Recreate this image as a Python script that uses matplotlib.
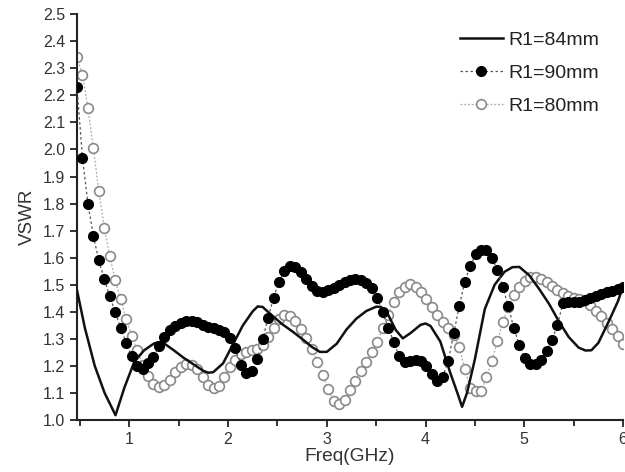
import numpy as np
import matplotlib
matplotlib.use('Agg')
import matplotlib.pyplot as plt
from matplotlib.ticker import MultipleLocator

plt.rcParams['font.family'] = ['Liberation Sans', 'DejaVu Sans']

# sweep used by the two marker series (101 samples)
freq = np.linspace(0.47, 6.0, 101)

vswr_90 = [2.23, 1.97, 1.80, 1.68, 1.59, 1.52, 1.457, 1.40, 1.34, 1.285,
           1.235, 1.20, 1.19, 1.21, 1.233, 1.272, 1.306, 1.332, 1.349, 1.360,
           1.366, 1.367, 1.362, 1.352, 1.345, 1.340, 1.334, 1.324, 1.305, 1.265,
           1.205, 1.174, 1.183, 1.225, 1.298, 1.378, 1.452, 1.512, 1.550, 1.568,
           1.566, 1.547, 1.52, 1.494, 1.478, 1.472, 1.479, 1.489, 1.50, 1.511,
           1.518, 1.523, 1.519, 1.507, 1.487, 1.45, 1.40, 1.34, 1.29, 1.235,
           1.214, 1.217, 1.223, 1.22, 1.20, 1.172, 1.145, 1.16, 1.22, 1.32,
           1.42, 1.51, 1.568, 1.612, 1.630, 1.628, 1.60, 1.555, 1.49, 1.42,
           1.34, 1.278, 1.23, 1.207, 1.207, 1.222, 1.256, 1.295, 1.352, 1.432,
           1.436, 1.435, 1.436, 1.442, 1.450, 1.458, 1.465, 1.472, 1.478, 1.485,
           1.492]

vswr_80 = [2.34, 2.275, 2.155, 2.005, 1.845, 1.71, 1.605, 1.518, 1.447, 1.372,
           1.312, 1.259, 1.205, 1.162, 1.134, 1.123, 1.128, 1.149, 1.177, 1.195,
           1.208, 1.205, 1.188, 1.16, 1.13, 1.119, 1.127, 1.158, 1.196, 1.223,
           1.243, 1.251, 1.258, 1.264, 1.277, 1.306, 1.342, 1.374, 1.388, 1.386,
           1.367, 1.337, 1.303, 1.264, 1.216, 1.166, 1.115, 1.072, 1.06, 1.075,
           1.11, 1.145, 1.18, 1.213, 1.25, 1.29, 1.341, 1.39, 1.438, 1.472,
           1.493, 1.502, 1.492, 1.472, 1.448, 1.417, 1.39, 1.364, 1.342, 1.315,
           1.27, 1.19, 1.12, 1.107, 1.108, 1.158, 1.22, 1.292, 1.362, 1.419,
           1.464, 1.492, 1.515, 1.529, 1.529, 1.523, 1.511, 1.495, 1.48, 1.468,
           1.459, 1.452, 1.447, 1.44, 1.425, 1.404, 1.384, 1.36, 1.335, 1.31,
           1.28]

# solid curve, read at its own points
freq_84 = [0.47, 0.55, 0.65, 0.75, 0.86, 0.95, 1.05, 1.15, 1.25, 1.30,
           1.35, 1.45, 1.55, 1.65, 1.75, 1.80, 1.85, 1.95, 2.05, 2.15,
           2.25, 2.30, 2.35, 2.45, 2.55, 2.65, 2.75, 2.85, 2.93, 3.0,
           3.1, 3.2, 3.3, 3.4, 3.5, 3.55, 3.62, 3.7, 3.77, 3.85,
           3.95, 4.0, 4.05, 4.15, 4.25, 4.32, 4.37, 4.42, 4.5, 4.6,
           4.7, 4.8, 4.88, 4.95, 5.05, 5.15, 5.25, 5.35, 5.45, 5.55,
           5.62, 5.68, 5.75, 5.85, 5.95, 6.0]
vswr_84 = [1.48, 1.34, 1.20, 1.10, 1.018, 1.12, 1.215, 1.258, 1.283, 1.288,
           1.284, 1.258, 1.23, 1.206, 1.182, 1.175, 1.177, 1.21, 1.28, 1.35,
           1.402, 1.42, 1.418, 1.385, 1.354, 1.328, 1.300, 1.27, 1.252, 1.252,
           1.282, 1.335, 1.375, 1.403, 1.419, 1.418, 1.39, 1.332, 1.302, 1.322,
           1.352, 1.357, 1.348, 1.29, 1.175, 1.103, 1.049, 1.10, 1.225, 1.41,
           1.50, 1.548, 1.565, 1.566, 1.535, 1.485, 1.43, 1.365, 1.307, 1.268,
           1.257, 1.258, 1.285, 1.36, 1.44, 1.495]

fig = plt.figure(figsize=(6.25, 4.72), dpi=100)
ax = fig.add_axes([0.1232, 0.110, 0.8736, 0.860])

l80, = ax.plot(freq, vswr_80, linestyle=(0, (1.5, 1.5)), color='#aaaaaa', lw=0.9,
               marker='o', ms=7, mfc='white', mec='#8a8a8a', mew=1.2, zorder=2,
               label='R1=80mm')
l84, = ax.plot(freq_84, vswr_84, color='#111111', lw=1.8, zorder=3, label='R1=84mm')
l90, = ax.plot(freq, vswr_90, linestyle=(0, (2, 2)), color='#555555', lw=0.9,
               marker='o', ms=7, mfc='black', mec='black', zorder=4,
               label='R1=90mm')

ax.set_xlim(0.47, 6.0)
ax.set_ylim(1.0, 2.5)
ax.xaxis.set_major_locator(MultipleLocator(1))
ax.xaxis.set_minor_locator(MultipleLocator(0.5))
ax.yaxis.set_major_locator(MultipleLocator(0.1))
ax.yaxis.set_major_formatter(matplotlib.ticker.FormatStrFormatter('%.1f'))

for s in ['top', 'right']:
    ax.spines[s].set_visible(False)
for s in ['left', 'bottom']:
    ax.spines[s].set_linewidth(1.5)
    ax.spines[s].set_color('#222222')

ax.tick_params(which='both', direction='out', colors='#222222', width=1.3,
               labelsize=11.5, labelcolor='#333333')
ax.tick_params(which='major', length=5)
ax.tick_params(which='minor', length=4)

ax.set_xlabel('Freq(GHz)', fontsize=13.8, color='#333333', labelpad=1)
ax.set_ylabel('VSWR', fontsize=13.5, color='#333333', labelpad=5)

ax.legend(handles=[l84, l90, l80], loc='upper left', bbox_to_anchor=(0.72, 0.955),
          bbox_transform=fig.transFigure, frameon=False, fontsize=14,
          handlelength=2.2, handletextpad=0.3, labelspacing=0.8, borderpad=0,
          numpoints=1, labelcolor='#222222')

fig.savefig('out.png', dpi=100)
